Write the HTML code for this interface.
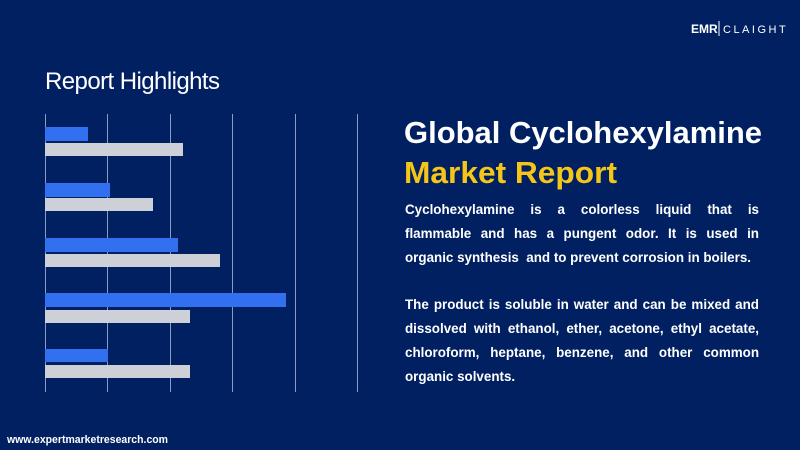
<!DOCTYPE html>
<html><head><meta charset="utf-8"><style>
html,body{margin:0;padding:0}
body{width:800px;height:450px;background:#012061;position:relative;overflow:hidden;font-family:"Liberation Sans",sans-serif}
.p{position:absolute;left:405px;width:354px;color:#fff;font-weight:bold;font-size:13.4px;line-height:24px;text-align:justify;text-align-last:justify;white-space:nowrap}
.p.l{text-align-last:left}
</style></head><body>
<svg width="800" height="450" style="position:absolute;left:0;top:0">
<g stroke="#8a9cc4" stroke-width="1">
<line x1="45.5" y1="114" x2="45.5" y2="392"/><line x1="107.5" y1="114" x2="107.5" y2="392"/>
<line x1="170.5" y1="114" x2="170.5" y2="392"/><line x1="232.5" y1="114" x2="232.5" y2="392"/>
<line x1="295.5" y1="114" x2="295.5" y2="392"/><line x1="357.5" y1="114" x2="357.5" y2="392"/>
</g>
<g fill="#3370f0">
<rect x="45" y="127" width="43" height="14"/><rect x="45" y="183" width="65" height="14"/>
<rect x="45" y="238" width="133" height="14"/><rect x="45" y="293" width="241" height="14"/>
<rect x="45" y="349" width="63" height="13"/>
</g>
<g fill="#cdd0d6">
<rect x="45" y="143" width="138" height="13"/><rect x="45" y="198" width="108" height="13"/>
<rect x="45" y="254" width="175" height="13"/><rect x="45" y="310" width="145" height="13"/>
<rect x="45" y="365" width="145" height="13"/>
</g>
<text x="45" y="89" font-size="24" fill="#fff" textLength="175" font-family="Liberation Sans">Report Highlights</text>
<text x="404" y="143" font-size="31" font-weight="bold" fill="#fff" textLength="358" lengthAdjust="spacingAndGlyphs">Global Cyclohexylamine</text>
<text x="404" y="183" font-size="31" font-weight="bold" fill="#f5c518" textLength="213" lengthAdjust="spacingAndGlyphs">Market Report</text>
<text x="7" y="443" font-size="11" font-weight="bold" fill="#fff" textLength="161" lengthAdjust="spacingAndGlyphs">www.expertmarketresearch.com</text>
<text x="691" y="33" font-size="12" font-weight="bold" fill="#fff">EMR</text>
<line x1="719" y1="21" x2="719" y2="36" stroke="#fff"/>
<text x="723" y="33" font-size="11" fill="#fff" letter-spacing="2.5">CLAIGHT</text>
</svg>
<div class="p" style="top:198px">Cyclohexylamine is a colorless liquid that is</div>
<div class="p" style="top:222px">flammable and has a pungent odor. It is used in</div>
<div class="p l" style="top:246px">organic synthesis &nbsp;and to prevent corrosion in boilers.</div>
<div class="p" style="top:293px">The product is soluble in water and can be mixed and</div>
<div class="p" style="top:317px">dissolved with ethanol, ether, acetone, ethyl acetate,</div>
<div class="p" style="top:341px">chloroform, heptane, benzene, and other common</div>
<div class="p l" style="top:365px">organic solvents.</div>
</body></html>
